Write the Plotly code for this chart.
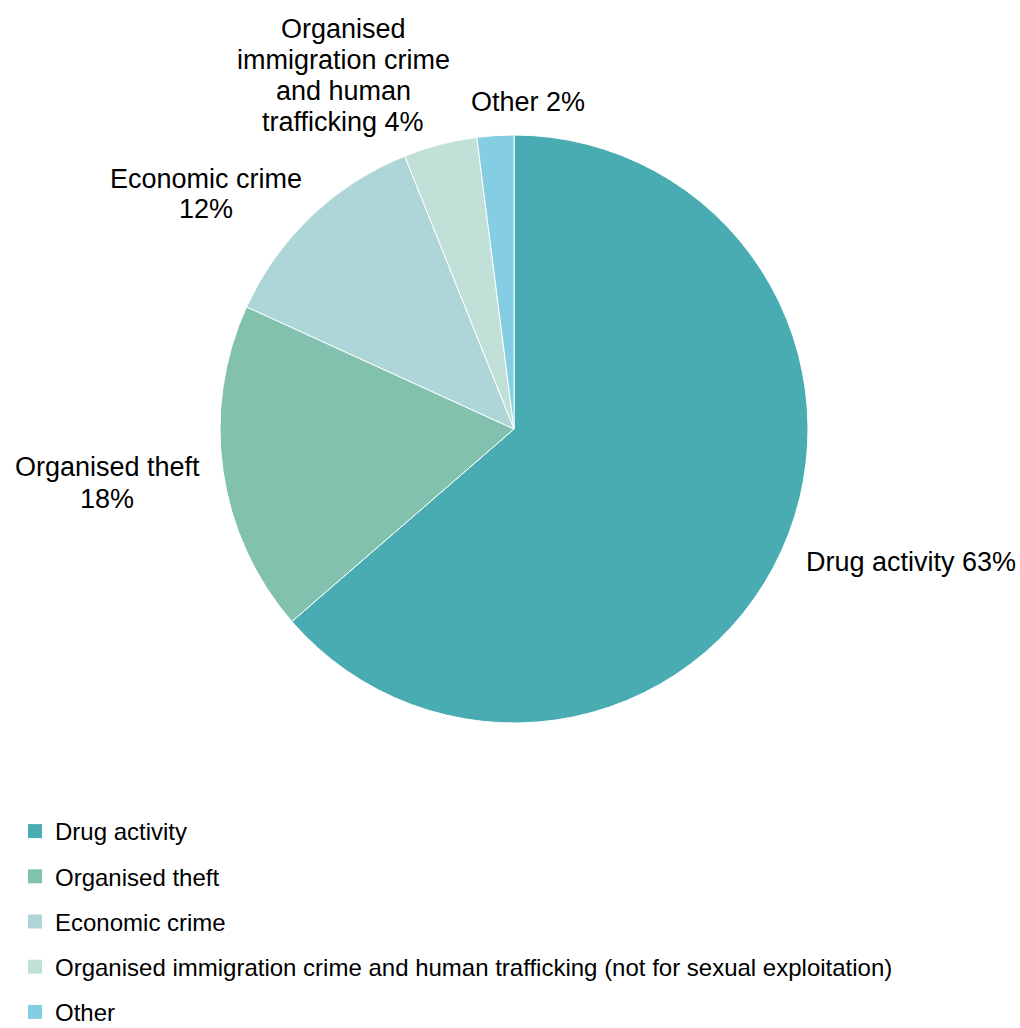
import plotly.graph_objects as go

# Share of organised crime groups by principal activity
categories = [
    "Drug activity",
    "Organised theft",
    "Economic crime",
    "Organised immigration crime and human trafficking (not for sexual exploitation)",
    "Other",
]
# slice label text, split into the lines shown beside each slice
slice_label_lines = [
    ["Drug activity {v}%"],
    ["Organised theft", "{v}%"],
    ["Economic crime", "{v}%"],
    ["Organised", "immigration crime", "and human", "trafficking {v}%"],
    ["Other {v}%"],
]
shares = [63, 18, 12, 4, 2]

colors = ["#48ACB2", "#82C1AE", "#AED5D7", "#C1E0D8", "#84CDE2"]

W, H = 1020, 1028
FONT = "Liberation Sans, Arial, sans-serif"

# pie centre and radius in pixels
cx, cy, r = 514, 429, 294

fig = go.Figure()
fig.add_trace(go.Pie(
    labels=categories,
    values=shares,
    sort=False,
    direction="clockwise",
    rotation=0,
    marker=dict(colors=colors, line=dict(color="white", width=1)),
    textinfo="none",
    hoverinfo="label+value",
    showlegend=False,
    domain=dict(x=[(cx - r) / W, (cx + r) / W], y=[1 - (cy + r) / H, 1 - (cy - r) / H]),
))

# legend entries, one group each so the rows can be spaced out
for name, col in zip(categories, colors):
    fig.add_trace(go.Scatter(
        x=[None], y=[None], mode="markers", name=name, legendgroup=name,
        marker=dict(symbol="square", size=14, color=col),
        showlegend=True, hoverinfo="skip",
    ))

# slice labels placed around the pie (centre of each text block, pixels)
label_pos = [(911, 562), (107, 483), (206, 194), (343, 75), (528, 102)]
LINE_H = 31
for lines, v, (px, py) in zip(slice_label_lines, shares, label_pos):
    n = len(lines)
    for i, line in enumerate(lines):
        ly = py + (i - (n - 1) / 2) * LINE_H
        fig.add_annotation(
            x=px / W, y=1 - ly / H, xref="paper", yref="paper",
            text=line.format(v=v), showarrow=False,
            xanchor="center", yanchor="middle", align="center",
            font=dict(family=FONT, size=27, color="#000000"),
        )

fig.update_layout(
    width=W, height=H,
    margin=dict(l=0, r=0, t=0, b=0, autoexpand=False),
    paper_bgcolor="white", plot_bgcolor="white",
    xaxis=dict(visible=False), yaxis=dict(visible=False),
    showlegend=True,
    legend=dict(
        x=15 / W, y=1 - 809 / H, xanchor="left", yanchor="top",
        xref="container", yref="container",
        font=dict(family=FONT, size=24, color="#000000"),
        tracegroupgap=11, traceorder="grouped",
        bgcolor="rgba(0,0,0,0)",
    ),
)

fig.write_html("out.html")
